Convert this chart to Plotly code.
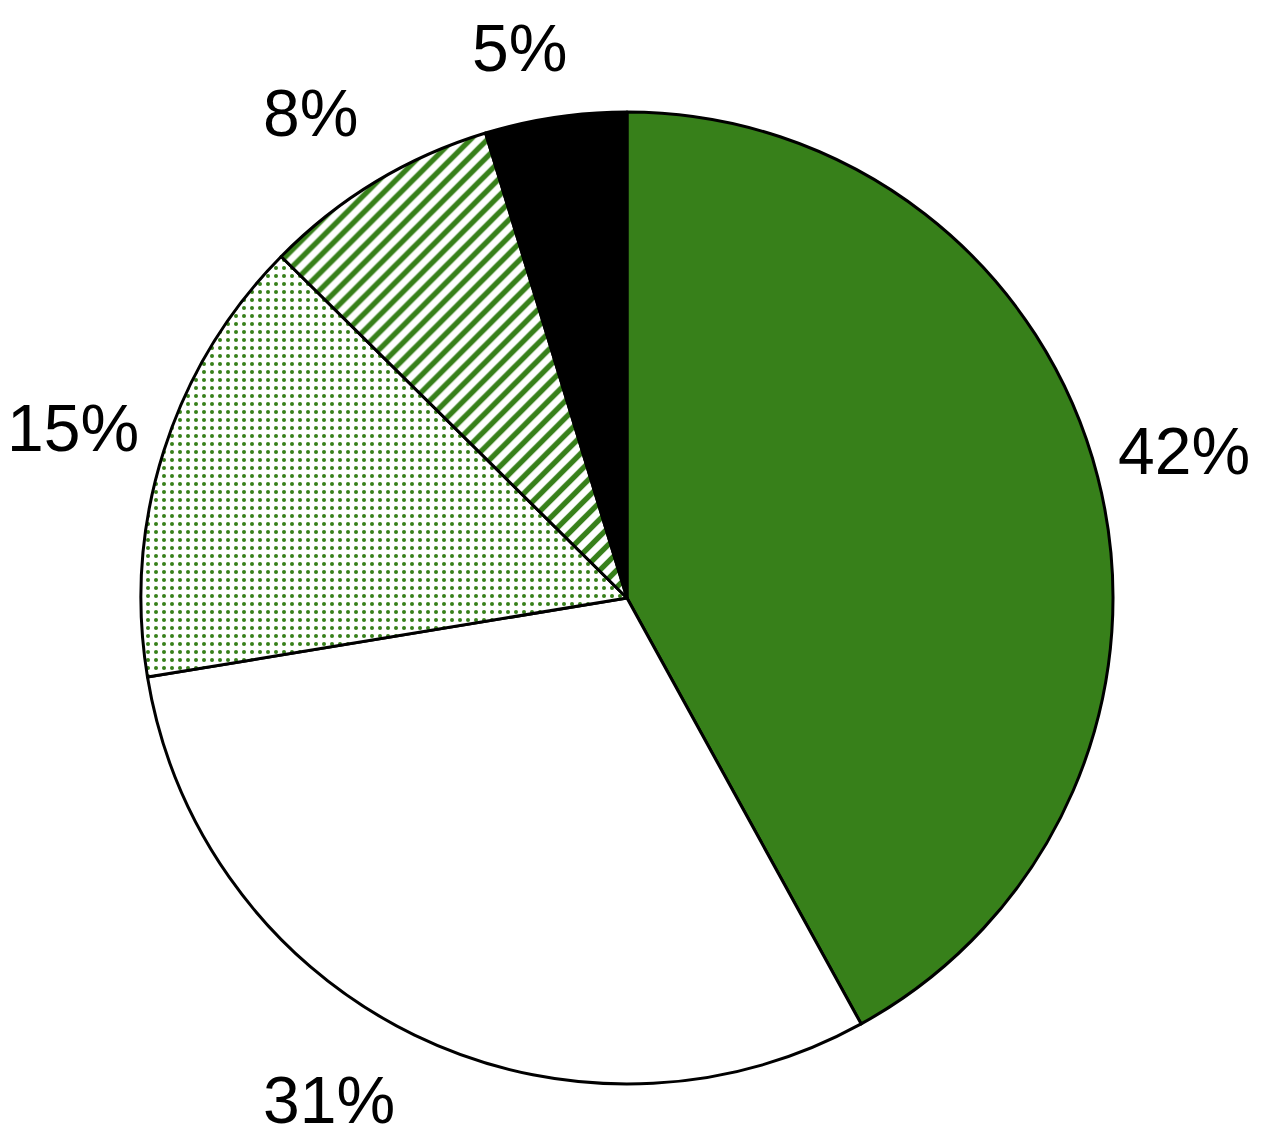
import math
import plotly.graph_objects as go

categories = ["A", "B", "C", "D", "E"]
values = [42.0, 30.4, 15.0, 7.9, 4.7]
text_labels = ["42%", "31%", "15%", "8%", "5%"]

GREEN = "#37801a"
fill_colors = [GREEN, "#ffffff", "#ffffff", "#ffffff", "#000000"]
pattern_shapes = ["", "", ".", "/", ""]
pattern_sizes = [8, 8, 8, 12, 8]
pattern_solidity = [0.3, 0.3, 0.2, 0.45, 0.3]

# label placement tweaks (angle shift in degrees, distance from centre in px)
label_shift_deg = [-0.4, 4.8, -0.6, -2.0, -2.6]
label_dist = [576, 584, 579, 579, 560]

W, H = 1261, 1141
# page body has an 8px margin; figure-space centre of the pie
cx, cy, r = 619, 590, 486

fig = go.Figure(go.Pie(
    labels=categories,
    values=values,
    textinfo="none",
    sort=False,
    direction="clockwise",
    rotation=0,
    hole=0,
    showlegend=False,
    marker=dict(
        colors=fill_colors,
        line=dict(color="#000000", width=3),
        pattern=dict(
            shape=pattern_shapes,
            fgcolor=GREEN,
            bgcolor="#ffffff",
            size=pattern_sizes,
            solidity=pattern_solidity,
            fillmode="replace",
        ),
    ),
    domain=dict(x=[(cx - r) / W, (cx + r) / W], y=[(H - cy - r) / H, (H - cy + r) / H]),
))

# outside labels near the slice mid-angles
total = sum(values)
cum = 0.0
for v, t, sh, d in zip(values, text_labels, label_shift_deg, label_dist):
    mid = (cum + v / 2) / total * 2 * math.pi + math.radians(sh)
    cum += v
    px = cx + d * math.sin(mid)
    py = cy - d * math.cos(mid)
    fig.add_annotation(
        x=px / W, y=1 - py / H, xref="paper", yref="paper",
        text=t, showarrow=False, xanchor="center", yanchor="middle",
        font=dict(family="Liberation Sans, Arial, sans-serif", size=66, color="#000000"),
    )

fig.update_layout(
    width=W, height=H,
    margin=dict(l=0, r=0, t=0, b=0),
    paper_bgcolor="#ffffff",
    plot_bgcolor="#ffffff",
)

fig.write_html("out.html")
